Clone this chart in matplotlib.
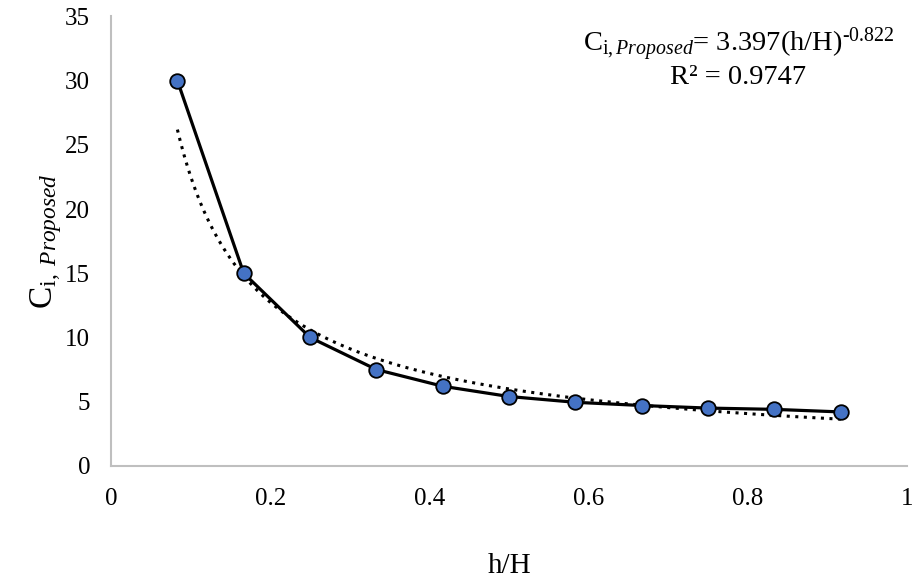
import numpy as np
import matplotlib
matplotlib.use('Agg')
import matplotlib.pyplot as plt

# data
h_H = [1/12, 2/12, 3/12, 4/12, 5/12, 6/12, 7/12, 8/12, 9/12, 10/12, 11/12]
Ci_proposed = [30.0, 15.0, 10.0, 7.5, 6.2, 5.4, 4.95, 4.7, 4.5, 4.4, 4.2]
x_ticks = [0, 0.2, 0.4, 0.6, 0.8, 1]
x_tick_labels = ['0', '0.2', '0.4', '0.6', '0.8', '1']
y_ticks = [0, 5, 10, 15, 20, 25, 30, 35]

plt.rcParams['font.family'] = 'Liberation Serif'
plt.rcParams['mathtext.fontset'] = 'custom'
plt.rcParams['mathtext.rm'] = 'Liberation Serif'
plt.rcParams['mathtext.it'] = 'Liberation Serif:italic'

# power trendline (least squares on log-log, same as a spreadsheet power fit)
b, log_a = np.polyfit(np.log(h_H), np.log(Ci_proposed), 1)
x_fit = np.linspace(h_H[0], h_H[-1], 200)
y_fit = np.exp(log_a) * x_fit ** b

fig = plt.figure(figsize=(9.14, 5.86), dpi=100)
ax = fig.add_axes([0.1215, 0.205, 0.871, 0.767])

ax.plot(x_fit, y_fit, color='black', linestyle=(0, (1, 1.8)), linewidth=2.2, zorder=2)
ax.plot(h_H, Ci_proposed, color='black', linewidth=2.3, marker='o', markersize=10.5,
        markerfacecolor='#4472C4', markeredgecolor='black', markeredgewidth=1.3, zorder=3)

ax.set_xlim(0, 1)
ax.set_ylim(0, 35)
ax.set_xticks(x_ticks)
ax.set_xticklabels(x_tick_labels)
ax.set_yticks(y_ticks)
ax.tick_params(length=0, labelsize=18)
ax.tick_params(axis='x', pad=16)
ax.tick_params(axis='y', pad=15)

for side in ['top', 'right']:
    ax.spines[side].set_visible(False)
for side in ['left', 'bottom']:
    ax.spines[side].set_color('#BFBFBF')
    ax.spines[side].set_linewidth(1.5)

ax.set_xlabel('h/H', fontsize=21, labelpad=31)
ax.set_ylabel(r'C$_{\mathrm{i,}\ \mathit{Proposed}}$', fontsize=24, labelpad=1)

fig.text(0.808, 0.923, r'C$_{\mathrm{i,}\mathit{Proposed}}$= 3.397(h/H)$^{\text{-0.822}}$',
         fontsize=20.5, ha='center', va='center')
fig.text(0.807, 0.868, 'R² = 0.9747', fontsize=20.5, ha='center', va='center')

fig.savefig('out.png', dpi=100)
